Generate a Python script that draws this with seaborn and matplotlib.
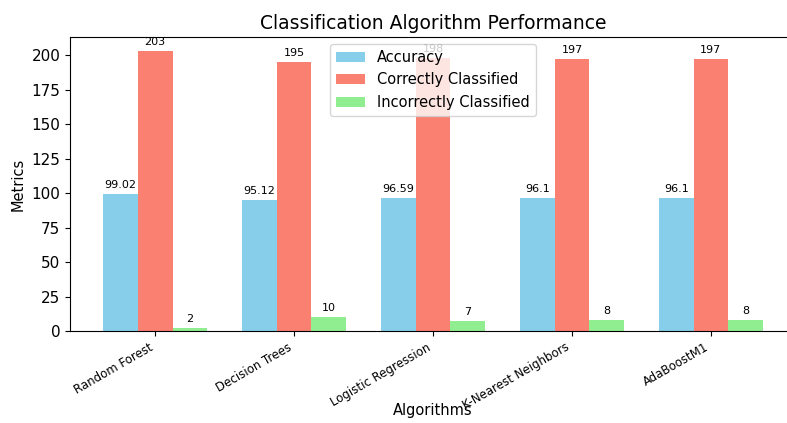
import seaborn as sns
import pandas as pd
import matplotlib.pyplot as plt

algorithms = ["Random Forest", "Decision Trees", "Logistic Regression",
              "K-Nearest Neighbors", "AdaBoostM1"]
accuracy = [99.02, 95.12, 96.59, 96.1, 96.1]
correct = [203, 195, 198, 197, 197]
incorrect = [2, 10, 7, 8, 8]
metric_names = ["Accuracy", "Correctly Classified", "Incorrectly Classified"]
colors = ["skyblue", "salmon", "lightgreen"]

# long form for seaborn hue
df = pd.DataFrame({
    "Algorithms": algorithms * 3,
    "Metrics": accuracy + correct + incorrect,
    "Metric": sum([[m] * len(algorithms) for m in metric_names], []),
})

fig = plt.figure(figsize=(7.87, 4.23), dpi=100)
# the reference is cropped on the right, so the axes run past the figure edge
ax = fig.add_axes([0.089, 0.2175, 0.9225, 0.695])

sns.barplot(data=df, x="Algorithms", y="Metrics", hue="Metric",
            palette=colors, width=0.75, saturation=1, ax=ax)
ax.set_xlim(-0.6125, 4.6125)
ax.margins(y=0.05)
ax.spines["right"].set_visible(False)

for cont in ax.containers:
    labels = ["{:g}".format(v) for v in cont.datavalues]
    ax.bar_label(cont, labels=labels, padding=3, fontsize=8)

ax.set_title("Classification Algorithm Performance", fontsize=13.5)
ax.set_xlabel("Algorithms", fontsize=10.5)
ax.xaxis.set_label_coords(0.5, -0.245)
ax.set_ylabel("Metrics", fontsize=10.5)
plt.setp(ax.get_xticklabels(), rotation=30, ha="right", fontsize=8.5)
ax.tick_params(axis="y", labelsize=11)
ax.legend(loc="upper center", fontsize=10.5)

plt.savefig("out.png", dpi=100)
